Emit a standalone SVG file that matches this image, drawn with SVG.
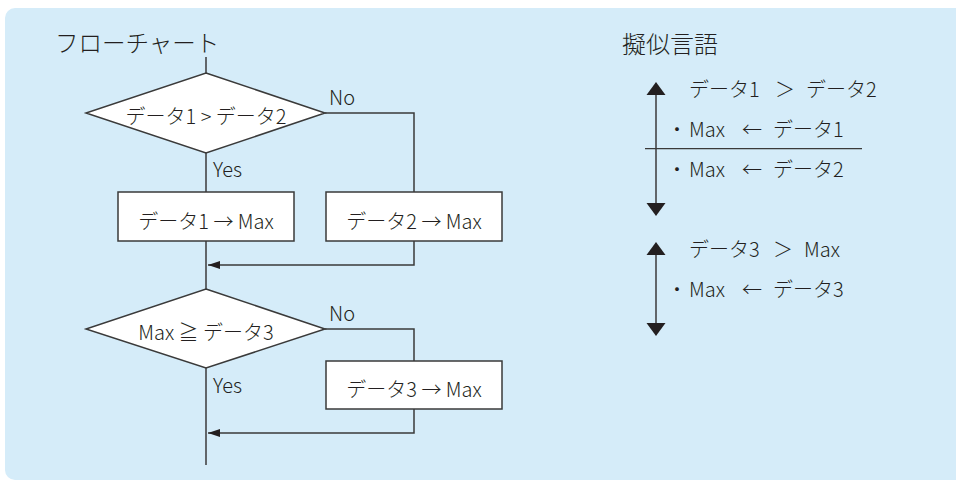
<svg xmlns="http://www.w3.org/2000/svg" width="956" height="482" viewBox="0 0 956 482">
<defs>
<style>
.t{font-family:"Noto Sans CJK JP","Noto Sans",sans-serif;font-weight:300;fill:#231f20}
.f{font-size:20px}
.p{font-size:20px}
.ln{fill:none;stroke:#3a3a3a;stroke-width:1.5}
.nd{fill:#fff;stroke:#3a3a3a;stroke-width:1.5}
.ah{fill:#231f20}
</style>
<marker id="arr" viewBox="0 0 12 8" refX="12" refY="4" markerWidth="12" markerHeight="8" markerUnits="userSpaceOnUse" orient="auto">
<path d="M0,0 L12,4 L0,8 Z" fill="#231f20"/>
</marker>
</defs>
<rect x="5" y="8" width="970" height="472" rx="10" fill="#d5ecf9"/>

<text class="t" x="55" y="52" font-size="23.5" font-weight="400">フローチャート</text>
<text class="t" x="622" y="53" font-size="24" font-weight="400">擬似言語</text>

<g id="connectors">
<line class="ln" x1="206" y1="57" x2="206" y2="73"/>
<polyline class="ln" points="325,113 414,113 414,192"/>
<line class="ln" x1="206" y1="153" x2="206" y2="192"/>
<line class="ln" x1="206" y1="241" x2="206" y2="289"/>
<polyline class="ln" points="414,241 414,265 208,265" marker-end="url(#arr)"/>
<polyline class="ln" points="325,329 414,329 414,361"/>
<line class="ln" x1="206" y1="368" x2="206" y2="465"/>
<polyline class="ln" points="414,409 414,433 208,433" marker-end="url(#arr)"/>
</g>

<g id="labels">
<text class="t" x="329" y="105" font-size="20">No</text>
<text class="t" x="213" y="177" font-size="20">Yes</text>
<text class="t" x="329" y="321" font-size="20">No</text>
<text class="t" x="213" y="393" font-size="20">Yes</text>
</g>

<g id="dec1">
<polygon class="nd" points="206,73 325,113 206,153 86,113"/>
<text class="t f" x="206" y="124" text-anchor="middle">データ1 &gt; データ2</text>
</g>
<g id="proc1">
<rect class="nd" x="118" y="192" width="176" height="49"/>
<text class="t f" x="206" y="229" text-anchor="middle">データ1 → Max</text>
</g>
<g id="proc2">
<rect class="nd" x="326" y="192" width="176" height="49"/>
<text class="t f" x="414" y="229" text-anchor="middle">データ2 → Max</text>
</g>
<g id="dec2">
<polygon class="nd" points="206,289 325,329 206,368 86,329"/>
<text class="t f" x="206" y="340" text-anchor="middle">Max ≧ データ3</text>
</g>
<g id="proc3">
<rect class="nd" x="326" y="361" width="176" height="48"/>
<text class="t f" x="414" y="397" text-anchor="middle">データ3 → Max</text>
</g>

<g id="pseudo1">
<line class="ln" x1="656" y1="90" x2="656" y2="206"/>
<polygon class="ah" points="656,82 665.5,95 646.5,95"/>
<polygon class="ah" points="656,216 665.5,203 646.5,203"/>
<line class="ln" x1="645" y1="148.7" x2="862" y2="148.7" style="stroke-width:1.3"/>
<text class="t p" y="97"><tspan x="689">データ1</tspan><tspan x="775">＞</tspan><tspan x="806">データ2</tspan></text>
<text class="t p" y="137"><tspan x="667">・</tspan><tspan x="689">Max</tspan><tspan x="742">←</tspan><tspan x="773">データ1</tspan></text>
<text class="t p" y="177"><tspan x="667">・</tspan><tspan x="689">Max</tspan><tspan x="742">←</tspan><tspan x="773">データ2</tspan></text>
</g>
<g id="pseudo2">
<line class="ln" x1="656" y1="250" x2="656" y2="326"/>
<polygon class="ah" points="656,242 665.5,255 646.5,255"/>
<polygon class="ah" points="656,336 665.5,323 646.5,323"/>
<text class="t p" y="257"><tspan x="689">データ3</tspan><tspan x="773">＞</tspan><tspan x="804">Max</tspan></text>
<text class="t p" y="297"><tspan x="667">・</tspan><tspan x="689">Max</tspan><tspan x="742">←</tspan><tspan x="773">データ3</tspan></text>
</g>
</svg>
